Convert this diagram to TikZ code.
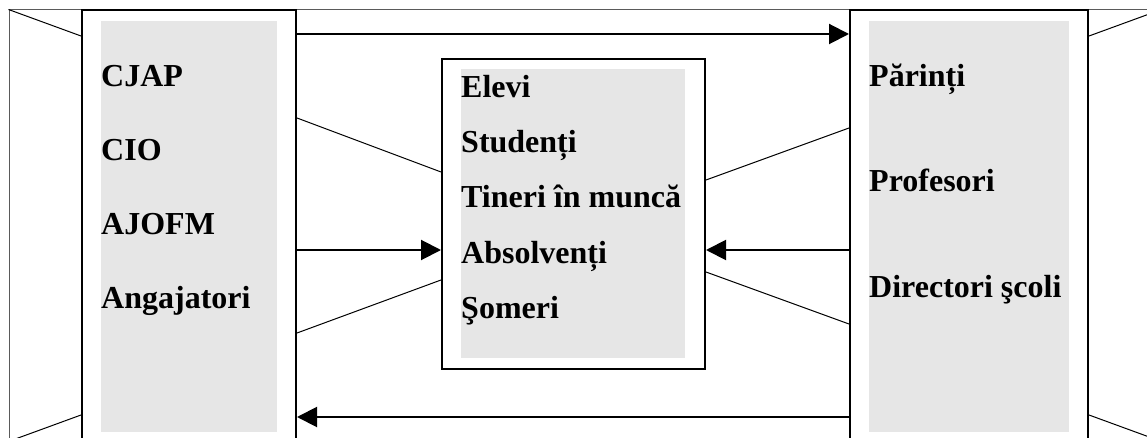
\documentclass[tikz,border=0pt]{standalone}
\usepackage{fontspec}
\setmainfont{Liberation Serif}
\usetikzlibrary{arrows.meta}
\definecolor{panelgray}{RGB}{230,230,230}
\definecolor{framegray}{RGB}{90,90,90}
\tikzset{
    % Boxes and shaded panels
    outerbox/.style={rectangle, draw=black, fill=white, line width=2pt, inner sep=0pt},
    panel/.style={rectangle, fill=panelgray, inner sep=0pt},
    framebox/.style={rectangle, draw=framegray, line width=1pt, inner sep=0pt},
    % Entries in the panels
    entry/.style={anchor=base west, inner sep=0pt, font=\fontsize{32}{38}\selectfont\bfseries},
    % Connectors
    flowarc/.style={-{Triangle[length=20pt,width=20pt]}, line width=2pt},
    thinedge/.style={line width=1pt},
}

\begin{document}
\begin{tikzpicture}[x=1pt,y=-1pt]
  \useasboundingbox (0,0) rectangle (1147,438);
  \clip (0,0) rectangle (1147,438);
  \node[framebox, minimum width=1152pt, minimum height=431pt] (frame) at (585,225.5) {};
  % boxes
  \node[outerbox, minimum width=214pt, minimum height=433pt] (lbox) at (189,226.5) {};
  \node[panel, minimum width=176pt, minimum height=411pt] (lpanel) at (189,226.5) {};
  \node[outerbox, minimum width=263pt, minimum height=310pt] (mbox) at (573.5,214) {};
  \node[panel, minimum width=224pt, minimum height=289pt] (mpanel) at (573,213.5) {};
  \node[outerbox, minimum width=238pt, minimum height=433pt] (rbox) at (969,226.5) {};
  \node[panel, minimum width=200pt, minimum height=411pt] (rpanel) at (969,226.5) {};
  % corner lines
  \draw[thinedge] (frame.north west) -- (lbox.west |- 0,36);
  \draw[thinedge] (frame.south west) -- (lbox.west |- 0,415);
  \draw[thinedge] (frame.north east) -- (rbox.east |- 0,36);
  \draw[thinedge] (frame.south east) -- (rbox.east |- 0,415);
  % entries
  \foreach \t [count=\i from 0] in {CJAP,CIO,AJOFM,Angajatori}
    \node[entry] (l\i) at (101,{87+73.7*\i}) {\t};
  \foreach \t [count=\i from 0] in {Elevi,Studenți,Tineri în muncă,Absolvenți,Şomeri}
    \node[entry] (m\i) at (461,{98+55*\i}) {\t};
  \foreach \t [count=\i from 0] in {Părinți,Profesori,Directori şcoli}
    \node[entry] (r\i) at (869,{87+105*\i}) {\t};
  % arrows
  \draw[flowarc] (lbox.east |- 0,34) -- (rbox.west |- 0,34);
  \draw[flowarc] (rbox.west |- 0,417) -- (lbox.east |- 0,417);
  \draw[flowarc] (lbox.east |- 0,250) -- (mbox.west |- 0,250);
  \draw[flowarc] (rbox.west |- 0,250) -- (mbox.east |- 0,250);
  % thin lines
  \draw[thinedge] (lbox.east |- 0,118) -- (mbox.west |- 0,172);
  \draw[thinedge] (lbox.east |- 0,333) -- (mbox.west |- 0,280);
  \draw[thinedge] (mbox.east |- 0,180) -- (rbox.west |- 0,128);
  \draw[thinedge] (mbox.east |- 0,272) -- (rbox.west |- 0,324);
\end{tikzpicture}
\end{document}
